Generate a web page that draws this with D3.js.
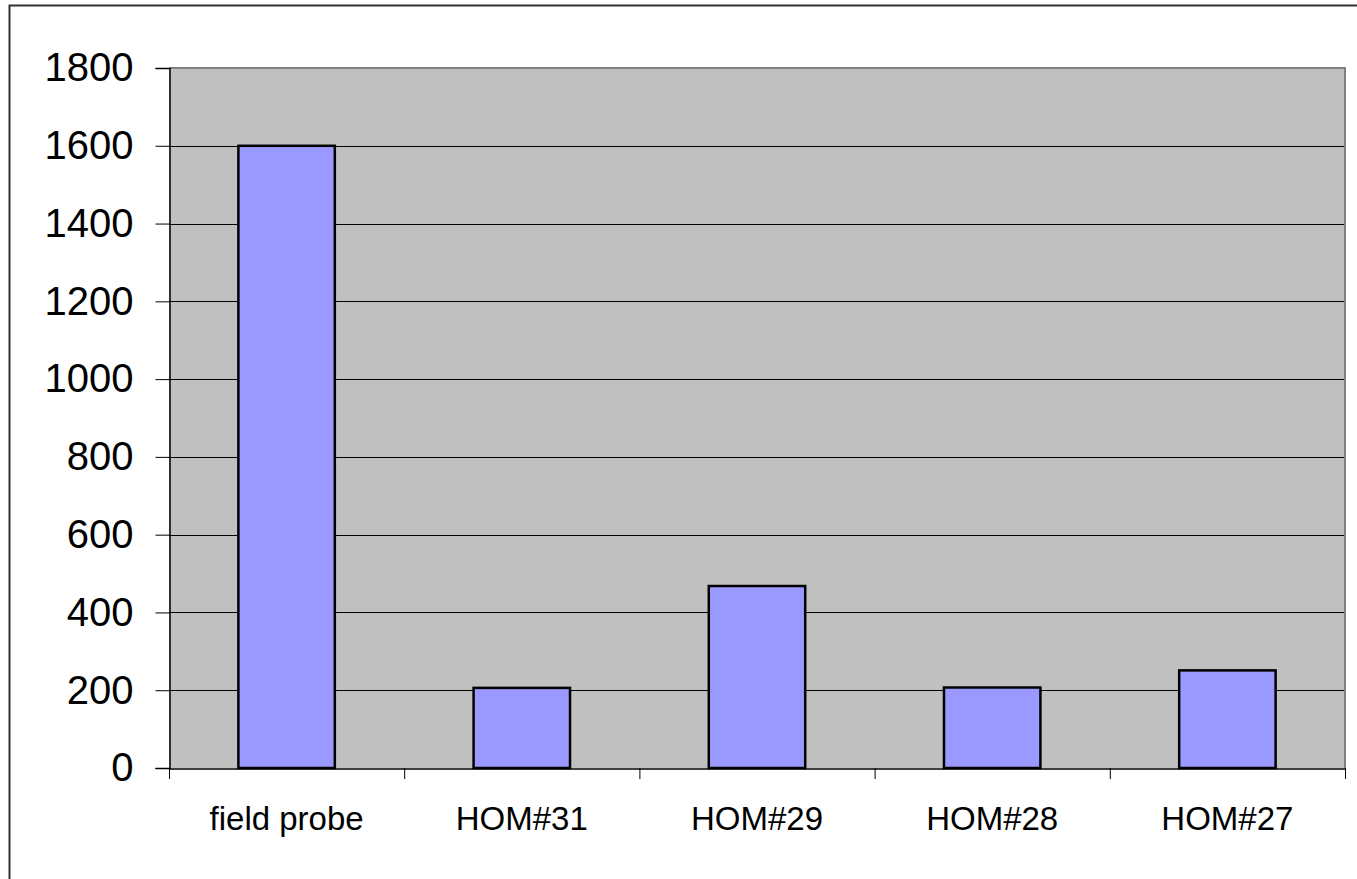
<!DOCTYPE html>
<html><head><meta charset="utf-8">
<script src="https://cdn.jsdelivr.net/npm/d3@7"></script>
<style>body{margin:0;background:#fff}svg{display:block}</style>
</head><body>
<svg id="c" width="1357" height="879"></svg>
<script>
const categories = ["field probe","HOM#31","HOM#29","HOM#28","HOM#27"];
const values = [1600, 206, 468, 207, 251];
const yTicks = [0,200,400,600,800,1000,1200,1400,1600,1800];

const svg = d3.select("#c");
const L = 169, R = 1345, T = 68, B = 768;

svg.append("rect").attr("x",9.5).attr("y",5.5).attr("width",1356).attr("height",890)
  .attr("fill","none").attr("stroke","#333").attr("stroke-width",2);

const x = d3.scaleBand().domain(categories).range([L,R]).padding(0);
const y = d3.scaleLinear().domain([0,1800]).range([B,T]);

svg.append("rect").attr("x",L).attr("y",T).attr("width",R-L).attr("height",B-T).attr("fill","#c0c0c0");

// gridlines
svg.append("g").selectAll("line").data(yTicks.filter(d=>d>0)).join("line")
  .attr("x1",L).attr("x2",R).attr("y1",d=>Math.round(y(d))+0.5).attr("y2",d=>Math.round(y(d))+0.5)
  .attr("stroke","#000").attr("stroke-width",1);

// plot border top/right
svg.append("path").attr("d",`M${L},${T} H${R} V${B}`).attr("fill","none").attr("stroke","#808080").attr("stroke-width",2);

// bars
const bw = x.bandwidth()*0.41;
svg.append("g").selectAll("rect").data(values).join("rect")
  .attr("x",(d,i)=>x(categories[i])+x.bandwidth()/2-bw/2)
  .attr("y",d=>y(d))
  .attr("width",bw)
  .attr("height",d=>B-y(d))
  .attr("fill","#9999ff").attr("stroke","#000").attr("stroke-width",2.5);

// y axis
const yAxis = d3.axisLeft(y).tickValues(yTicks).tickSize(14).tickPadding(22).tickFormat(d3.format("d"));
const gy = svg.append("g").attr("transform",`translate(${L+0.5},0)`).call(yAxis);
gy.select(".domain").attr("stroke","#000").attr("stroke-width",1.5);
gy.selectAll(".tick line").attr("stroke","#000");
gy.selectAll("text").attr("font-family","Liberation Sans, Arial, sans-serif").attr("font-size",40).attr("fill","#000");

// x axis
const xAxis = d3.axisBottom(x).tickSize(0).tickPadding(38);
const gx = svg.append("g").attr("transform",`translate(0,${B+0.5})`).call(xAxis);
gx.select(".domain").attr("stroke","#000").attr("stroke-width",1.5);
gx.selectAll("text").attr("font-family","Liberation Sans, Arial, sans-serif").attr("font-size",33).attr("fill","#000");
// category boundary ticks
const bounds = categories.map(c=>x(c)).concat([R]);
svg.append("g").selectAll("line").data(bounds).join("line")
  .attr("x1",d=>d+0.5).attr("x2",d=>d+0.5).attr("y1",B).attr("y2",B+11)
  .attr("stroke","#000").attr("stroke-width",1);
</script>
</body></html>
